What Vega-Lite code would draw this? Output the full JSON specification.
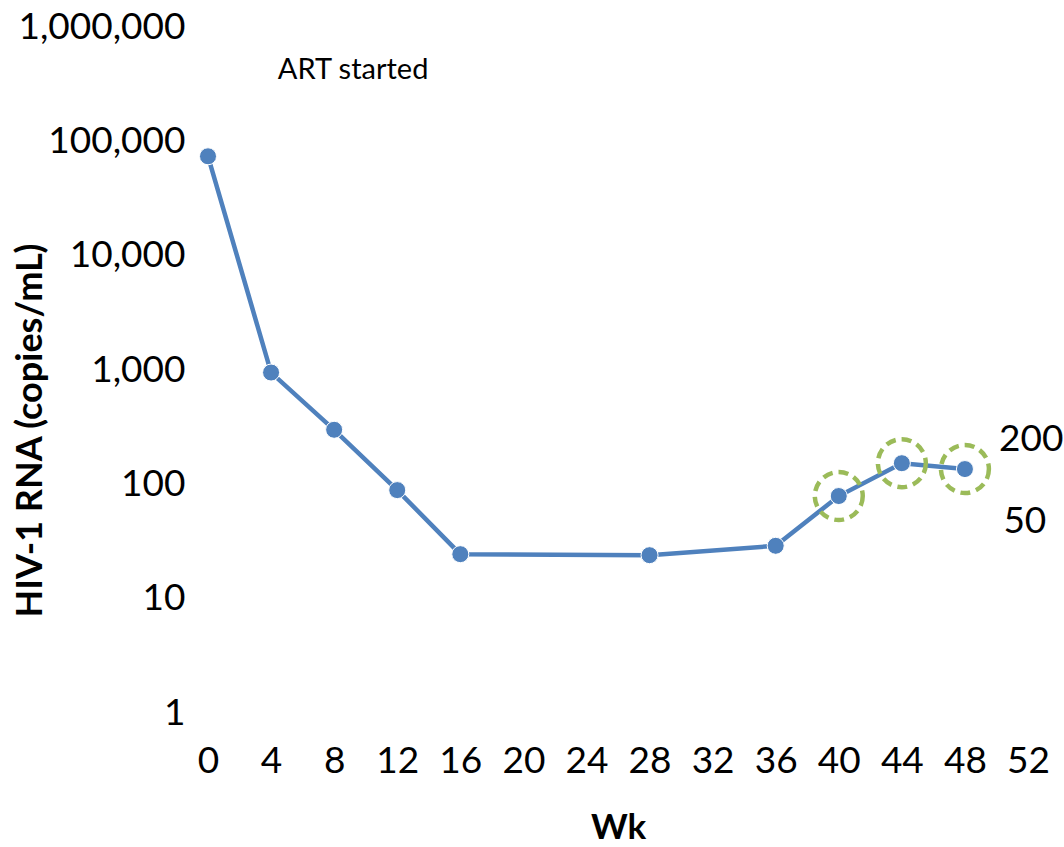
{
  "$schema": "https://vega.github.io/schema/vega-lite/v6.json",
  "width": 820,
  "height": 686,
  "autosize": {"type": "none"},
  "padding": {"left": 208, "top": 27, "right": 36, "bottom": 134},
  "background": "white",
  "config": {"view": {"stroke": null}, "font": "Lato"},
  "datasets": {
    "vl": [
      {"wk": 0, "rna": 74000, "circled": false},
      {"wk": 4, "rna": 950, "circled": false},
      {"wk": 8, "rna": 300, "circled": false},
      {"wk": 12, "rna": 89, "circled": false},
      {"wk": 16, "rna": 24.5, "circled": false},
      {"wk": 28, "rna": 24, "circled": false},
      {"wk": 36, "rna": 29, "circled": false},
      {"wk": 40, "rna": 79, "circled": true},
      {"wk": 44, "rna": 153, "circled": true},
      {"wk": 48, "rna": 136, "circled": true}
    ],
    "notes": [
      {"wk": 9.2, "rna": 420000, "label": "ART started", "size": 29},
      {"wk": 52.2, "rna": 244, "label": "200", "size": 37},
      {"wk": 51.8, "rna": 46.7, "label": "50", "size": 37}
    ]
  },
  "layer": [
    {
      "data": {"name": "vl"},
      "mark": {"type": "line", "color": "#4F81BD", "strokeWidth": 4.5},
      "encoding": {
        "x": {
          "field": "wk", "type": "quantitative",
          "scale": {"domain": [0, 52], "nice": false, "zero": false},
          "axis": {
            "values": [0, 4, 8, 12, 16, 20, 24, 28, 32, 36, 40, 44, 48, 52],
            "domain": false, "ticks": false, "grid": false,
            "labelFlush": false, "labelOverlap": false,
            "labelFontSize": 37, "labelColor": "black", "labelPadding": 30,
            "labelFont": "Lato",
            "title": "Wk", "titleFontSize": 35, "titleFontWeight": "bold", "titleColor": "black",
            "titleFont": "Lato", "titleY": 114, "titleBaseline": "middle"
          }
        },
        "y": {
          "field": "rna", "type": "quantitative",
          "scale": {"type": "log", "domain": [1, 1000000], "nice": false},
          "axis": {
            "values": [1, 10, 100, 1000, 10000, 100000, 1000000],
            "format": ",",
            "domain": false, "ticks": false, "grid": false,
            "labelFlush": false, "labelOverlap": false,
            "labelFontSize": 37, "labelColor": "black", "labelPadding": 23,
            "labelFont": "Lato",
            "title": "HIV-1 RNA (copies/mL)", "titleFontSize": 36, "titleFontWeight": "bold",
            "titleColor": "black", "titleFont": "Lato",
            "titleX": -178, "titleY": 403, "titleBaseline": "middle"
          }
        }
      }
    },
    {
      "data": {"name": "vl"},
      "transform": [{"filter": "datum.circled"}],
      "mark": {"type": "point", "shape": "circle", "filled": false, "size": 2300, "stroke": "#9BBB59", "strokeWidth": 4.5, "strokeDash": [10, 6], "opacity": 1},
      "encoding": {
        "x": {"field": "wk", "type": "quantitative"},
        "y": {"field": "rna", "type": "quantitative"}
      }
    },
    {
      "data": {"name": "vl"},
      "mark": {"type": "point", "shape": "circle", "filled": true, "size": 290, "color": "#4F81BD", "stroke": "white", "strokeWidth": 1, "opacity": 1},
      "encoding": {
        "x": {"field": "wk", "type": "quantitative"},
        "y": {"field": "rna", "type": "quantitative"}
      }
    },
    {
      "data": {"name": "notes"},
      "mark": {"type": "text", "font": "Lato", "color": "black", "align": "center", "baseline": "middle"},
      "encoding": {
        "x": {"field": "wk", "type": "quantitative"},
        "y": {"field": "rna", "type": "quantitative"},
        "text": {"field": "label"},
        "size": {"field": "size", "type": "quantitative", "scale": null}
      }
    }
  ]
}
